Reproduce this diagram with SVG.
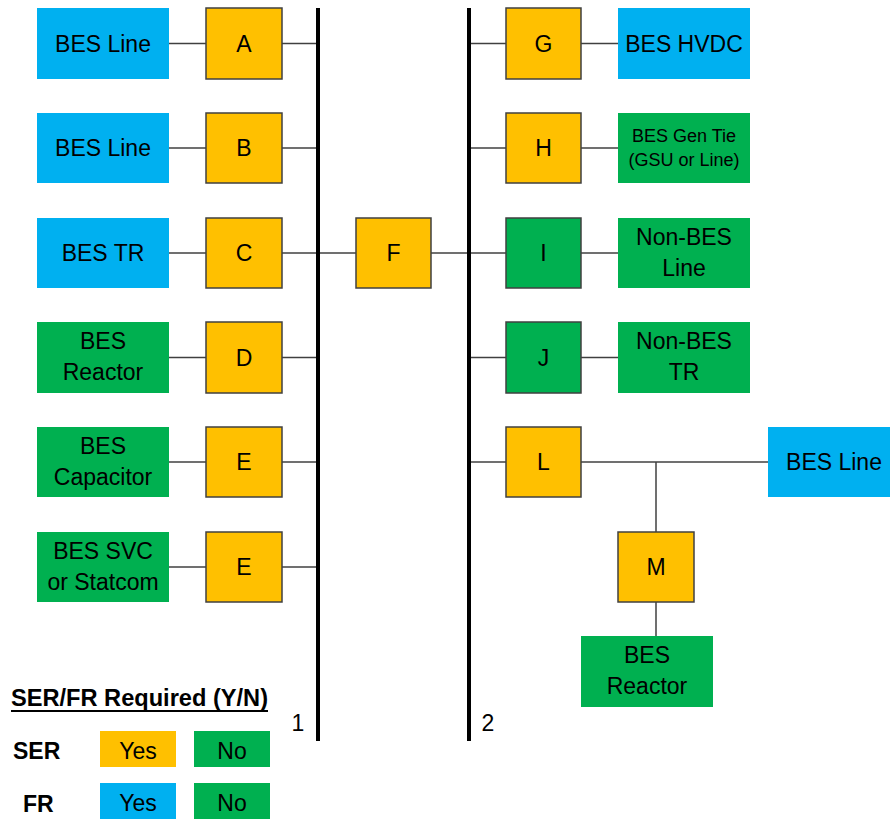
<svg xmlns="http://www.w3.org/2000/svg" width="890" height="819" viewBox="0 0 890 819">
<style>
text{font-family:"Liberation Sans",Arial,sans-serif;font-size:23px;fill:#000;text-anchor:middle}
.blue{fill:#00B0F0}
.green{fill:#00B050}
.orange{fill:#FFC000}
.sw{stroke:#404040;stroke-width:1.5}
.c{stroke:#404040;stroke-width:1.5;fill:none}
.bus{stroke:#000;stroke-width:4}
.b{font-weight:bold;text-anchor:start}
.sm{font-size:18px}
</style>
<rect width="890" height="819" fill="#fff"/>
<g id="connectors">
<line class="c" x1="169" y1="43.5" x2="318" y2="43.5"/>
<line class="c" x1="169" y1="148" x2="318" y2="148"/>
<line class="c" x1="169" y1="253" x2="618" y2="253"/>
<line class="c" x1="169" y1="357.5" x2="318" y2="357.5"/>
<line class="c" x1="169" y1="462" x2="318" y2="462"/>
<line class="c" x1="169" y1="567" x2="318" y2="567"/>
<line class="c" x1="469" y1="43.5" x2="618" y2="43.5"/>
<line class="c" x1="469" y1="148" x2="618" y2="148"/>
<line class="c" x1="469" y1="357.5" x2="618" y2="357.5"/>
<line class="c" x1="469" y1="462" x2="768" y2="462"/>
<line class="c" x1="656" y1="462" x2="656" y2="636"/>
</g>
<g id="bus1"><line class="bus" x1="318" y1="8" x2="318" y2="741"/><text x="298" y="731">1</text></g>
<g id="bus2"><line class="bus" x1="469" y1="8" x2="469" y2="741"/><text x="488" y="731">2</text></g>

<g id="bes-line-1"><rect class="blue" x="37" y="8" width="132" height="71"/><text x="103" y="52">BES Line</text></g>
<g id="bes-line-2"><rect class="blue" x="37" y="113" width="132" height="70"/><text x="103" y="156">BES Line</text></g>
<g id="bes-tr"><rect class="blue" x="37" y="218" width="132" height="70"/><text x="103" y="261">BES TR</text></g>
<g id="bes-reactor-1"><rect class="green" x="37" y="322" width="132" height="71"/><text x="103" y="349">BES</text><text x="103" y="380">Reactor</text></g>
<g id="bes-capacitor"><rect class="green" x="37" y="427" width="132" height="70"/><text x="103" y="454">BES</text><text x="103" y="485">Capacitor</text></g>
<g id="bes-svc"><rect class="green" x="37" y="532" width="132" height="70"/><text x="103" y="559">BES SVC</text><text x="103" y="590">or Statcom</text></g>

<g id="A"><rect class="orange sw" x="206" y="8" width="76" height="71"/><text x="244" y="52">A</text></g>
<g id="B"><rect class="orange sw" x="206" y="113" width="76" height="70"/><text x="244" y="156">B</text></g>
<g id="C"><rect class="orange sw" x="206" y="218" width="76" height="70"/><text x="244" y="261">C</text></g>
<g id="D"><rect class="orange sw" x="206" y="322" width="76" height="71"/><text x="244" y="366">D</text></g>
<g id="E1"><rect class="orange sw" x="206" y="427" width="76" height="70"/><text x="244" y="470">E</text></g>
<g id="E2"><rect class="orange sw" x="206" y="532" width="76" height="70"/><text x="244" y="575">E</text></g>

<g id="F"><rect class="orange sw" x="356" y="218" width="75" height="70"/><text x="393.5" y="261">F</text></g>

<g id="G"><rect class="orange sw" x="506" y="8" width="75" height="71"/><text x="543.5" y="52">G</text></g>
<g id="H"><rect class="orange sw" x="506" y="113" width="75" height="70"/><text x="543.5" y="156">H</text></g>
<g id="I"><rect class="green sw" x="506" y="218" width="75" height="70"/><text x="543.5" y="261">I</text></g>
<g id="J"><rect class="green sw" x="506" y="322" width="75" height="71"/><text x="543.5" y="366">J</text></g>
<g id="L"><rect class="orange sw" x="506" y="427" width="75" height="70"/><text x="543.5" y="470">L</text></g>

<g id="bes-hvdc"><rect class="blue" x="618" y="8" width="132" height="71"/><text x="684" y="52">BES HVDC</text></g>
<g id="bes-gen-tie"><rect class="green" x="618" y="113" width="132" height="70"/><text class="sm" x="684" y="142">BES Gen Tie</text><text class="sm" x="684" y="166">(GSU or Line)</text></g>
<g id="non-bes-line"><rect class="green" x="618" y="218" width="132" height="70"/><text x="684" y="245">Non-BES</text><text x="684" y="276">Line</text></g>
<g id="non-bes-tr"><rect class="green" x="618" y="322" width="132" height="71"/><text x="684" y="349">Non-BES</text><text x="684" y="380">TR</text></g>
<g id="bes-line-3"><rect class="blue" x="768" y="427" width="122" height="70"/><text x="834" y="470">BES Line</text></g>
<g id="M"><rect class="orange sw" x="618" y="532" width="76" height="70"/><text x="656" y="575">M</text></g>
<g id="bes-reactor-2"><rect class="green" x="581" y="636" width="132" height="71"/><text x="647" y="663">BES</text><text x="647" y="694">Reactor</text></g>

<g id="legend">
<text class="b" x="11" y="706" textLength="257" lengthAdjust="spacingAndGlyphs">SER/FR Required (Y/N)</text>
<line x1="11" y1="711" x2="268" y2="711" stroke="#000" stroke-width="2"/>
<text class="b" x="13" y="759">SER</text>
<text class="b" x="23" y="812">FR</text>
<rect class="orange" x="100" y="731" width="76" height="36"/><text x="138" y="759">Yes</text>
<rect class="green" x="194" y="731" width="76" height="36"/><text x="232" y="759">No</text>
<rect class="blue" x="100" y="783" width="76" height="36"/><text x="138" y="811">Yes</text>
<rect class="green" x="194" y="783" width="76" height="36"/><text x="232" y="811">No</text>
</g>
</svg>
